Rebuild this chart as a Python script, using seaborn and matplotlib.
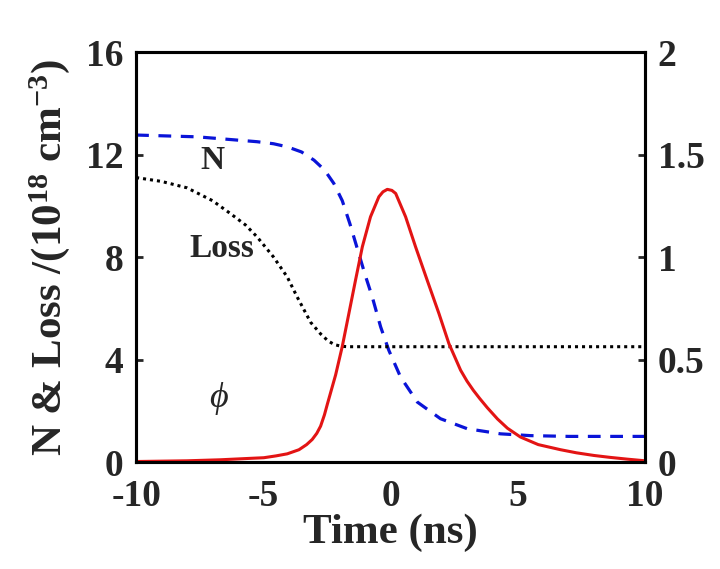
import numpy as np
import pandas as pd
import matplotlib
matplotlib.use("Agg")
import matplotlib.pyplot as plt
import seaborn as sns

# values
t_n = [-10, -7.6, -5.25, -4.6, -4.06, -3.5, -3.01, -2.6, -2.23, -1.9, -1.6, -1.3,
       -1.0, -0.72, -0.39, -0.07, 0.39, 1.05, 1.96, 3.01, 4.32, 5.5, 7, 10]
n_vals = [12.76, 12.69, 12.5, 12.42, 12.3, 12.1, 11.78, 11.4, 10.87, 10.2, 9.3, 8.3,
          7.3, 6.44, 5.27, 4.36, 3.32, 2.34, 1.69, 1.30, 1.1, 1.03, 1.0, 1.0]

t_loss = [-10, -9.0, -8.0, -7.0, -6.3, -5.7, -5.25, -4.6, -4.06, -3.67, -3.14,
          -2.75, -2.45, -2.2, -1.95, -1.7, 10]
loss_vals = [11.1, 10.95, 10.7, 10.2, 9.7, 9.25, 8.79, 8.0, 7.22, 6.44, 5.45,
             5.0, 4.72, 4.58, 4.52, 4.5, 4.5]

# phi is on the right axis
t_phi = [-10, -8, -6.68, -5.5, -4.98, -4.5, -4.06, -3.6, -3.3, -3.08, -2.9, -2.75,
         -2.6, -2.49, -2.16, -1.9, -1.64, -1.38, -1.11, -0.79, -0.46, -0.3, -0.13,
         0.05, 0.2, 0.59, 0.98, 1.44, 1.9, 2.29, 2.75, 3.0, 3.25, 3.5, 3.8, 4.2,
         4.59, 5.1, 5.8, 6.68, 7.3, 7.99, 8.6, 9.3, 10]
phi_vals = [0.0025, 0.006, 0.011, 0.018, 0.021, 0.03, 0.04, 0.06, 0.085, 0.11,
            0.14, 0.175, 0.23, 0.28, 0.425, 0.563, 0.724, 0.886, 1.05, 1.196,
            1.294, 1.318, 1.33, 1.325, 1.31, 1.196, 1.05, 0.886, 0.724, 0.578,
            0.448, 0.395, 0.35, 0.31, 0.265, 0.21, 0.165, 0.122, 0.085, 0.06,
            0.045, 0.032, 0.023, 0.014, 0.006]

left_ticks = [0, 4, 8, 12, 16]
right_ticks = [0, 0.5, 1, 1.5, 2]
right_labels = ["0", "0.5", "1", "1.5", "2"]
x_ticks = [-10, -5, 0, 5, 10]

sns.set_style("white")
plt.rcParams["font.family"] = ["Liberation Serif", "DejaVu Serif"]
plt.rcParams["font.weight"] = "bold"
plt.rcParams["mathtext.fontset"] = "custom"
plt.rcParams["mathtext.rm"] = "Liberation Serif:bold"
plt.rcParams["mathtext.bf"] = "Liberation Serif:bold"
plt.rcParams["mathtext.it"] = "Liberation Serif:italic"

fig = plt.figure(figsize=(7.2, 5.69), dpi=100)
ax = fig.add_axes([0.189, 0.188, 0.707, 0.7206])
ax2 = ax.twinx()

df_n = pd.DataFrame({"t": t_n, "v": n_vals})
df_l = pd.DataFrame({"t": t_loss, "v": loss_vals})
df_p = pd.DataFrame({"t": t_phi, "v": phi_vals})

sns.lineplot(data=df_n, x="t", y="v", ax=ax, color="#0a14d8", lw=2.3,
             linestyle=(0, (4, 3)))
sns.lineplot(data=df_l, x="t", y="v", ax=ax, color="black", lw=2.2,
             linestyle=(0, (1, 1.3)))
sns.lineplot(data=df_p, x="t", y="v", ax=ax2, color="#e31414", lw=2.2)

ax.set_xlim(-10, 10)
ax.set_ylim(0, 16)
ax2.set_ylim(0, 2)
ax.set_xticks(x_ticks)
ax.set_xticklabels([str(v) for v in x_ticks])
ax.set_yticks(left_ticks)
ax2.set_yticks(right_ticks)
ax2.set_yticklabels(right_labels)

for a in (ax, ax2):
    for s in a.spines.values():
        s.set_linewidth(2.2)
        s.set_color("black")
ax.tick_params(axis="both", direction="in", length=5, width=2, labelsize=27)
ax.tick_params(axis="x", pad=12)
ax.tick_params(axis="y", pad=9)
ax2.tick_params(axis="y", direction="in", length=5, width=2, labelsize=27, pad=9)
for lab in ax.get_xticklabels() + ax.get_yticklabels() + ax2.get_yticklabels():
    lab.set_fontweight("bold")

ax.set_xlabel("Time (ns)", fontsize=31, fontweight="bold", labelpad=0)
ax.set_ylabel(r"N & Loss /(10$^{\mathbf{18}}$ cm$^{\mathbf{-3}}$)", fontsize=31,
              fontweight="bold")
ax.yaxis.set_label_coords(-0.125, 0.5)
ax2.set_ylabel("")

ax.text(-7.0, 11.78, "N", fontsize=24, fontweight="bold", ha="center", va="center")
ax.text(-6.64, 8.34, "Loss", fontsize=24, fontweight="bold", ha="center", va="center")
ax.text(-6.76, 2.48, "\u03d5", fontsize=26, style="italic", fontweight="normal",
        ha="center", va="center")

fig.savefig("out.png", dpi=100)
